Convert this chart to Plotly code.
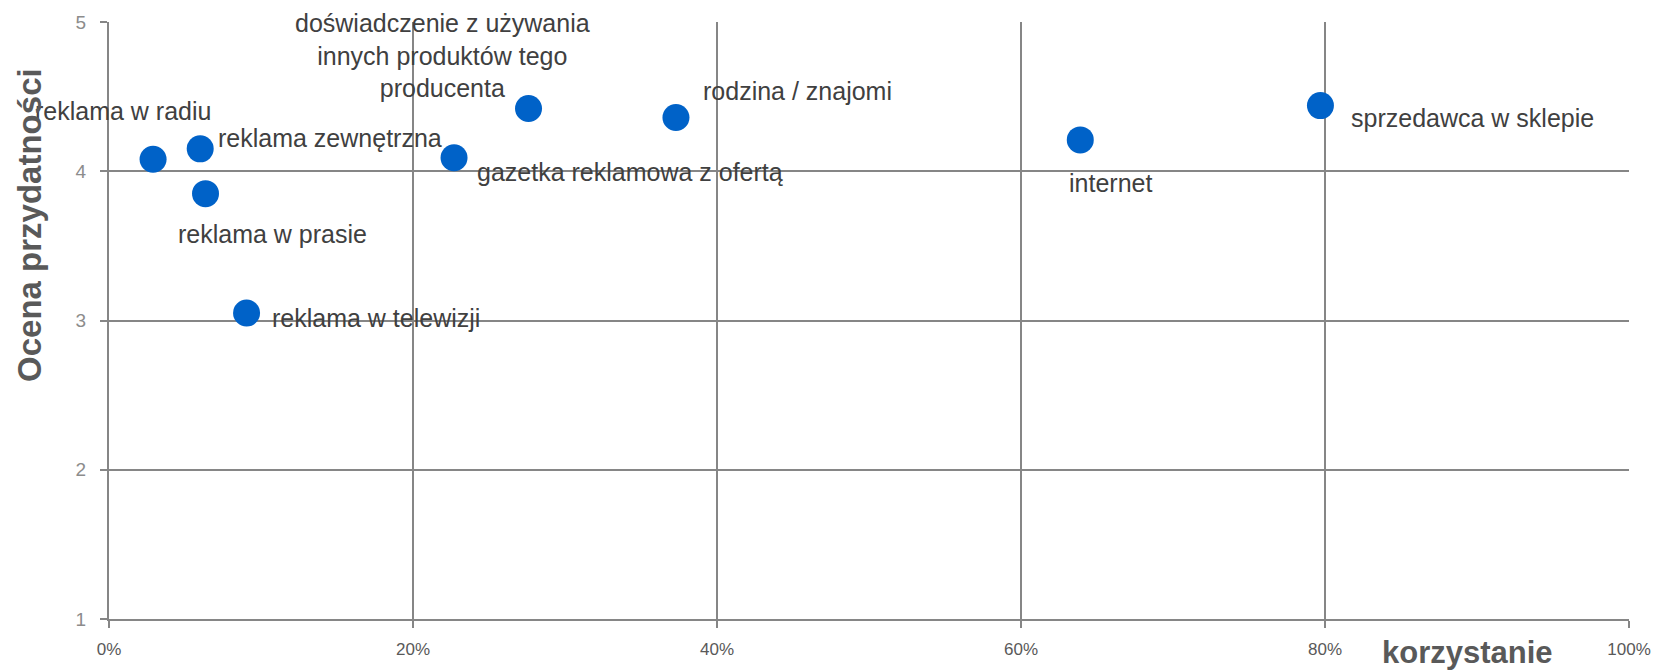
import plotly.graph_objects as go

labels = ["reklama w radiu", "reklama zewnętrzna", "reklama w prasie", "reklama w telewizji",
          "gazetka reklamowa z ofertą", "doświadczenie z używania<br>innych produktów tego<br>producenta",
          "rodzina / znajomi", "internet", "sprzedawca w sklepie"]
usage = [2.9, 6.0, 6.35, 9.05, 22.7, 27.6, 37.3, 63.9, 79.7]
rating = [4.08, 4.15, 3.85, 3.05, 4.09, 4.42, 4.36, 4.21, 4.44]
x_ticks = [0, 20, 40, 60, 80, 100]
y_ticks = [1, 2, 3, 4, 5]

# label placement (pixel offsets relative to the marker)
label_style = [
    ("left", -120, 48), ("left", 16, 11), ("left", -30, -40), ("left", 23, -5),
    ("left", 21, -14), ("center", -86, 53), ("left", 25, 27), ("left", -13, -43), ("left", 29, -12),
]

FONT = "Liberation Sans, Arial, sans-serif"
GRID = "#868686"

fig = go.Figure()
fig.add_trace(go.Scatter(
    x=usage, y=rating, mode="markers",
    marker=dict(size=27, color="#0062C8", line=dict(width=0)),
    hoverinfo="skip", showlegend=False, cliponaxis=False,
))

for lab, xv, yv, (anc, dx, dy) in zip(labels, usage, rating, label_style):
    fig.add_annotation(x=xv, y=yv, text=lab, showarrow=False, xanchor=anc, yanchor="middle",
                       xshift=dx, yshift=dy, align="center",
                       font=dict(family=FONT, size=25, color="#404040"))

fig.add_annotation(xref="paper", yref="paper", x=0.894, y=-0.0875, text="<b>korzystanie</b>",
                   showarrow=False, xanchor="center", yanchor="bottom", borderpad=0,
                   font=dict(family=FONT, size=31, color="#595959"))
fig.add_annotation(xref="paper", yref="paper", x=-0.052, y=0.66, text="<b>Ocena przydatności</b>",
                   textangle=-90, showarrow=False, xanchor="center", yanchor="middle",
                   font=dict(family=FONT, size=33, color="#595959"))

fig.update_layout(
    width=1663, height=672,
    margin=dict(l=109, r=25, t=21, b=53),
    paper_bgcolor="white", plot_bgcolor="white",
    font=dict(family=FONT),
)
fig.update_xaxes(
    range=[0, 100], tickvals=x_ticks, ticktext=[f"{v}%" for v in x_ticks],
    showgrid=True, gridcolor=GRID, gridwidth=2, showline=True, linecolor=GRID, linewidth=2,
    ticks="outside", ticklen=7, tickwidth=2, tickcolor=GRID, zeroline=False,
    tickfont=dict(size=17, color="#595959", family=FONT), ticklabelstandoff=7, mirror=False,
)
fig.update_yaxes(
    range=[1, 5], tickvals=y_ticks,
    showgrid=True, gridcolor=GRID, gridwidth=2, showline=True, linecolor=GRID, linewidth=2,
    ticks="outside", ticklen=7, tickwidth=2, tickcolor=GRID, zeroline=False,
    tickfont=dict(size=19, color="#8c8c8c", family=FONT), ticklabelstandoff=10,
)

fig.write_html("out.html")
